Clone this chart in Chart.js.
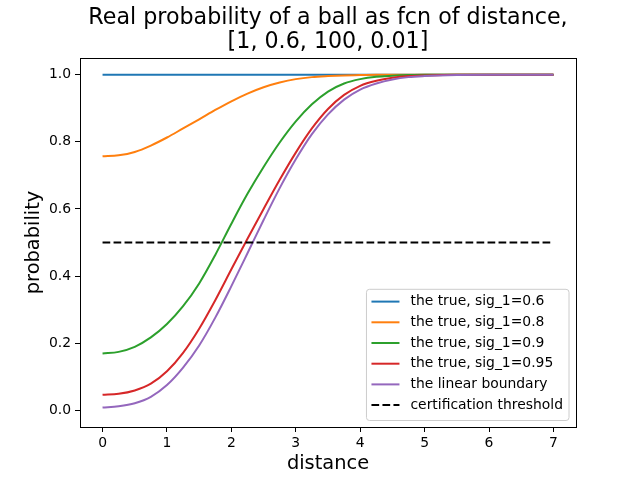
<!DOCTYPE html>
<html>
<head>
<meta charset="utf-8">
<script src="https://cdn.jsdelivr.net/npm/chart.js@4.4.1/dist/chart.umd.min.js"></script>
<style>
  html, body { margin: 0; padding: 0; background: #fff; }
</style>
</head>
<body>
<canvas id="probChart" width="640" height="480"></canvas>
<script>
// distance samples and probabilities
var distance = [0, 0.25, 0.5, 0.75, 1, 1.25, 1.5, 1.75, 2, 2.25, 2.5, 2.75, 3, 3.25, 3.5, 3.75, 4, 4.25, 4.5, 4.75, 5, 5.5, 6, 6.5, 7];
var sig06 = [1, 1, 1, 1, 1, 1, 1, 1, 1, 1, 1, 1, 1, 1, 1, 1, 1, 1, 1, 1, 1, 1, 1, 1, 1];
var sig08 = [0.757, 0.760, 0.770, 0.789, 0.813, 0.840, 0.867, 0.895, 0.921, 0.944, 0.963, 0.977, 0.987, 0.993, 0.996, 0.998, 0.999, 1, 1, 1, 1, 1, 1, 1, 1];
var sig09 = [0.169, 0.174, 0.189, 0.217, 0.257, 0.310, 0.378, 0.463, 0.556, 0.645, 0.725, 0.798, 0.861, 0.912, 0.950, 0.974, 0.987, 0.994, 0.997, 0.999, 1, 1, 1, 1, 1];
var sig095 = [0.046, 0.049, 0.059, 0.079, 0.116, 0.171, 0.243, 0.328, 0.420, 0.511, 0.600, 0.687, 0.768, 0.840, 0.898, 0.940, 0.967, 0.982, 0.991, 0.996, 0.998, 1, 1, 1, 1];
var linearBoundary = [0.008, 0.012, 0.021, 0.040, 0.075, 0.127, 0.193, 0.276, 0.370, 0.468, 0.567, 0.662, 0.748, 0.823, 0.882, 0.926, 0.956, 0.974, 0.986, 0.993, 0.996, 0.999, 1, 1, 1];
var thresholdX = [0, 7];
var thresholdY = [0.5, 0.5];

var xTicks = [0, 1, 2, 3, 4, 5, 6, 7];
var yTicks = [0, 0.2, 0.4, 0.6, 0.8, 1.0];

var titleLines = ['Real probability of a ball as fcn of distance,', '[1, 0.6, 100, 0.01]'];
var seriesLabels = ['the true, sig_1=0.6', 'the true, sig_1=0.8', 'the true, sig_1=0.9', 'the true, sig_1=0.95', 'the linear boundary', 'certification threshold'];
var seriesColors = ['#1f77b4', '#ff7f0e', '#2ca02c', '#d62728', '#9467bd', '#000000'];
var seriesValues = [sig06, sig08, sig09, sig095, linearBoundary];

function toPoints(xs, ys) {
  return xs.map(function(x, i) { return { x: x, y: ys[i] }; });
}

var FONT = "'DejaVu Sans', sans-serif";
var DASH = [7.7, 3.3];

var datasets = seriesValues.map(function(vals, i) {
  return {
    label: seriesLabels[i],
    data: toPoints(distance, vals),
    borderColor: seriesColors[i],
    borderWidth: 2,
    pointRadius: 0,
    fill: false,
    cubicInterpolationMode: 'monotone',
    order: 10 - i
  };
});
datasets.push({
  label: seriesLabels[5],
  data: toPoints(thresholdX, thresholdY),
  borderColor: seriesColors[5],
  borderWidth: 2,
  borderDash: DASH,
  pointRadius: 0,
  fill: false,
  order: 0
});

// title centred over the axes, box around the axes, legend inside (matplotlib style)
var frameAndLegend = {
  id: 'frameAndLegend',
  afterDraw: function(chart) {
    var ctx = chart.ctx, a = chart.chartArea;
    ctx.save();
    ctx.fillStyle = '#000';
    ctx.font = '22.2px ' + FONT;
    ctx.textAlign = 'center';
    ctx.textBaseline = 'alphabetic';
    titleLines.forEach(function(t, i) {
      ctx.fillText(t, (a.left + a.right) / 2, 24 + i * 24.3);
    });
    ctx.textAlign = 'left';

    ctx.strokeStyle = '#000';
    ctx.lineWidth = 1;
    ctx.strokeRect(Math.round(a.left) + 0.5, Math.round(a.top) + 0.5, Math.round(a.right - a.left), Math.round(a.bottom - a.top));

    ctx.font = '13.9px ' + FONT;
    var maxW = 0;
    seriesLabels.forEach(function(t) { maxW = Math.max(maxW, ctx.measureText(t).width); });
    var rowH = 20.7;
    var boxW = 5 + 28 + 11 + maxW + 6;
    var boxH = rowH * seriesLabels.length + 7;
    var bx = a.right - 7 - boxW;
    var by = a.bottom - 6.5 - boxH;
    ctx.beginPath();
    ctx.roundRect(bx, by, boxW, boxH, 3);
    ctx.fillStyle = 'rgba(255,255,255,0.8)';
    ctx.fill();
    ctx.strokeStyle = '#cccccc';
    ctx.stroke();
    seriesLabels.forEach(function(t, i) {
      var cy = by + 12.3 + i * rowH;
      ctx.beginPath();
      ctx.setLineDash(i === 5 ? DASH : []);
      ctx.strokeStyle = seriesColors[i];
      ctx.lineWidth = 2;
      ctx.moveTo(bx + 5, cy);
      ctx.lineTo(bx + 33, cy);
      ctx.stroke();
      ctx.setLineDash([]);
      ctx.fillStyle = '#000';
      ctx.textBaseline = 'middle';
      ctx.fillText(t, bx + 44, cy);
    });
    ctx.restore();
  }
};

var ctx = document.getElementById('probChart').getContext('2d');
var probChart = new Chart(ctx, {
  type: 'line',
  data: { datasets: datasets },
  options: {
    responsive: false,
    animation: false,
    devicePixelRatio: 1,
    layout: { padding: { left: 0, right: 64, top: 58, bottom: 0 } },
    plugins: {
      legend: { display: false },
      tooltip: { enabled: false },
      title: { display: false }
    },
    scales: {
      x: {
        type: 'linear',
        min: -0.35,
        max: 7.35,
        afterFit: function(s) { s.height = 53; },
        afterBuildTicks: function(s) { s.ticks = xTicks.map(function(v) { return { value: v }; }); },
        grid: { display: true, drawOnChartArea: false, drawTicks: true, tickLength: 5, tickColor: '#000' },
        border: { display: true, color: '#000' },
        ticks: {
          color: '#000', padding: 3, maxRotation: 0,
          font: { family: FONT, size: 13.9 },
          callback: function(v) { return String(v); }
        },
        title: {
          display: true, text: 'distance', color: '#000',
          font: { family: FONT, size: 19.4 },
          padding: { top: 0, bottom: 4 }
        }
      },
      y: {
        type: 'linear',
        min: -0.05,
        max: 1.05,
        afterFit: function(s) { s.width = 80; },
        afterBuildTicks: function(s) { s.ticks = yTicks.map(function(v) { return { value: v }; }); },
        grid: { display: true, drawOnChartArea: false, drawTicks: true, tickLength: 5, tickColor: '#000' },
        border: { display: true, color: '#000' },
        ticks: {
          color: '#000', padding: 4,
          font: { family: FONT, size: 13.9 },
          callback: function(v) { return v.toFixed(1); }
        },
        title: {
          display: true, text: 'probability', color: '#000',
          font: { family: FONT, size: 19.4 },
          padding: { top: 22, bottom: 0 }
        }
      }
    }
  },
  plugins: [frameAndLegend]
});
</script>
</body>
</html>
